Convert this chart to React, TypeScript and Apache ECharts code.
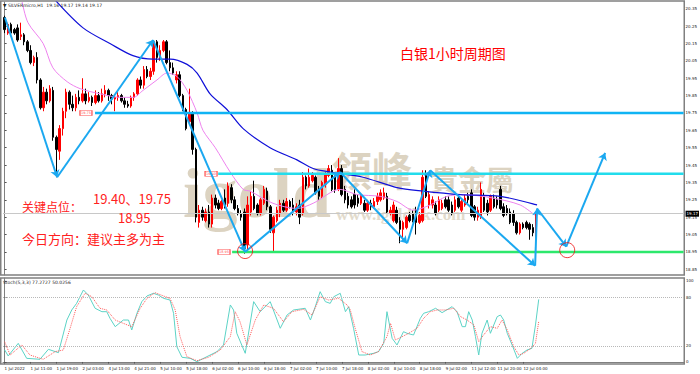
import React, { useEffect, useRef } from "react";
import * as echarts from "echarts";

// [open, close, low, high]
const candles: number[][] = [
  [20.30, 20.23, 20.21, 20.31], [20.21, 20.26, 20.20, 20.27], [20.26, 20.21, 20.20, 20.27], [20.23, 20.21, 20.20, 20.24],
  [20.24, 20.17, 20.16, 20.26], [20.19, 20.20, 20.17, 20.27], [20.20, 20.16, 20.14, 20.21], [20.16, 20.11, 20.10, 20.17],
  [20.11, 20.04, 20.03, 20.14], [20.04, 20.07, 20.02, 20.08], [20.07, 19.94, 19.92, 20.10], [19.94, 19.78, 19.77, 19.95],
  [19.78, 19.87, 19.76, 19.90], [19.87, 19.82, 19.80, 19.89], [19.82, 19.89, 19.81, 19.91], [19.88, 19.61, 19.59, 19.90],
  [19.61, 19.54, 19.38, 19.62], [19.53, 19.66, 19.48, 19.68], [19.66, 19.76, 19.62, 19.78], [19.76, 19.87, 19.72, 19.89],
  [19.87, 19.80, 19.77, 19.88], [19.80, 19.78, 19.76, 19.85], [19.78, 19.84, 19.76, 19.86], [19.84, 19.82, 19.80, 19.88],
  [19.82, 19.86, 19.81, 19.95], [19.86, 19.82, 19.80, 19.89], [19.82, 19.84, 19.81, 19.87], [19.84, 19.81, 19.79, 19.85],
  [19.81, 19.85, 19.80, 19.88], [19.85, 19.82, 19.81, 19.87], [19.82, 19.86, 19.81, 19.89], [19.86, 19.88, 19.84, 19.91],
  [19.88, 19.85, 19.82, 19.89], [19.85, 19.83, 19.80, 19.86], [19.83, 19.84, 19.76, 19.85], [19.84, 19.85, 19.82, 19.87],
  [19.85, 19.82, 19.81, 19.86], [19.82, 19.80, 19.78, 19.84], [19.80, 19.79, 19.78, 19.82], [19.79, 19.84, 19.78, 19.85],
  [19.84, 19.86, 19.82, 19.87], [19.86, 19.94, 19.85, 19.95], [19.94, 19.91, 19.89, 19.96], [19.91, 20.00, 19.89, 20.02],
  [20.00, 19.96, 19.95, 20.02], [19.96, 19.99, 19.94, 20.01], [19.99, 20.16, 19.97, 20.17], [20.16, 20.07, 20.04, 20.17],
  [20.07, 20.11, 20.05, 20.14], [20.11, 20.16, 20.10, 20.17], [20.16, 20.04, 20.03, 20.17], [20.04, 20.01, 19.99, 20.11],
  [20.01, 19.98, 19.97, 20.04], [19.94, 19.97, 19.92, 19.99], [19.97, 19.85, 19.84, 19.99], [19.85, 19.77, 19.76, 19.86],
  [19.77, 19.66, 19.65, 19.78], [19.70, 19.75, 19.68, 19.89], [19.75, 19.54, 19.51, 19.76], [19.54, 19.15, 19.12, 19.55],
  [19.12, 19.19, 19.09, 19.22], [19.19, 19.15, 19.13, 19.21], [19.13, 19.18, 19.12, 19.20], [19.18, 19.11, 19.09, 19.22],
  [19.11, 19.26, 19.09, 19.28], [19.26, 19.22, 19.20, 19.28], [19.23, 19.20, 19.19, 19.25], [19.20, 19.24, 19.19, 19.25],
  [19.26, 19.21, 19.20, 19.31], [19.23, 19.33, 19.21, 19.35], [19.32, 19.25, 19.23, 19.34], [19.25, 19.20, 19.19, 19.27],
  [19.20, 19.17, 19.16, 19.22], [19.17, 19.15, 19.13, 19.19], [19.18, 18.97, 18.94, 19.20], [18.99, 19.22, 18.96, 19.27],
  [19.18, 19.27, 19.16, 19.30], [19.27, 19.20, 19.19, 19.36], [19.22, 19.17, 19.16, 19.23], [19.17, 19.25, 19.16, 19.26],
  [19.23, 19.31, 19.22, 19.33], [19.30, 19.21, 19.19, 19.32], [19.21, 19.08, 19.06, 19.22], [19.06, 19.15, 18.95, 19.16],
  [19.13, 19.19, 19.12, 19.21], [19.17, 19.23, 19.15, 19.25], [19.23, 19.19, 19.18, 19.25], [19.19, 19.24, 19.18, 19.26],
  [19.24, 19.21, 19.20, 19.25], [19.22, 19.18, 19.16, 19.26], [19.18, 19.21, 19.16, 19.23], [19.22, 19.15, 19.11, 19.25],
  [19.17, 19.38, 19.16, 19.41], [19.38, 19.33, 19.31, 19.39], [19.33, 19.38, 19.32, 19.43], [19.36, 19.39, 19.35, 19.41],
  [19.38, 19.29, 19.28, 19.39], [19.31, 19.27, 19.25, 19.33], [19.27, 19.35, 19.26, 19.36], [19.34, 19.40, 19.32, 19.41],
  [19.39, 19.43, 19.38, 19.45], [19.42, 19.31, 19.30, 19.45], [19.38, 19.31, 19.29, 19.39], [19.31, 19.43, 19.30, 19.49],
  [19.43, 19.28, 19.27, 19.45], [19.31, 19.25, 19.23, 19.33], [19.27, 19.22, 19.20, 19.29], [19.25, 19.21, 19.20, 19.27],
  [19.28, 19.22, 19.20, 19.31], [19.26, 19.23, 19.21, 19.28], [19.23, 19.27, 19.22, 19.29], [19.23, 19.19, 19.18, 19.25],
  [19.19, 19.23, 19.18, 19.25], [19.23, 19.21, 19.19, 19.25], [19.21, 19.24, 19.20, 19.26], [19.24, 19.27, 19.22, 19.29],
  [19.25, 19.29, 19.24, 19.31], [19.26, 19.29, 19.25, 19.32], [19.27, 19.18, 19.17, 19.29], [19.17, 19.19, 19.16, 19.21],
  [19.13, 19.22, 19.12, 19.24], [19.19, 19.12, 19.11, 19.21], [19.13, 19.08, 19.00, 19.15], [19.08, 19.12, 19.02, 19.13],
  [19.09, 19.15, 19.08, 19.16], [19.16, 19.13, 19.12, 19.18], [19.17, 19.13, 19.12, 19.19], [19.19, 19.12, 19.05, 19.21],
  [19.12, 19.16, 19.11, 19.18], [19.13, 19.38, 19.12, 19.42], [19.39, 19.27, 19.26, 19.42], [19.22, 19.28, 19.20, 19.30],
  [19.22, 19.25, 19.20, 19.27], [19.22, 19.17, 19.16, 19.24], [19.19, 19.25, 19.18, 19.27], [19.20, 19.23, 19.19, 19.25],
  [19.25, 19.21, 19.20, 19.27], [19.25, 19.19, 19.18, 19.27], [19.22, 19.17, 19.16, 19.24], [19.19, 19.25, 19.18, 19.27],
  [19.26, 19.21, 19.20, 19.28], [19.19, 19.24, 19.18, 19.25], [19.22, 19.26, 19.21, 19.28], [19.27, 19.25, 19.23, 19.29],
  [19.29, 19.16, 19.15, 19.31], [19.21, 19.15, 19.13, 19.22], [19.15, 19.19, 19.13, 19.21], [19.15, 19.31, 19.14, 19.35],
  [19.27, 19.19, 19.18, 19.29], [19.23, 19.18, 19.16, 19.25], [19.19, 19.27, 19.18, 19.28], [19.26, 19.21, 19.20, 19.28],
  [19.25, 19.22, 19.20, 19.27], [19.31, 19.20, 19.19, 19.33], [19.21, 19.16, 19.15, 19.23], [19.20, 19.17, 19.16, 19.22],
  [19.18, 19.12, 19.11, 19.20], [19.17, 19.12, 19.10, 19.19], [19.12, 19.06, 19.05, 19.13], [19.06, 19.11, 19.05, 19.12],
  [19.11, 19.09, 19.08, 19.12], [19.12, 19.09, 19.08, 19.13], [19.11, 19.08, 19.02, 19.12], [19.09, 19.06, 19.04, 19.11],
  [19.06, 19.17, 19.00, 19.18],
];

const slotCount = 210;
const xLabels = [
  "1 Jul 2022", "1 Jul 11:00", "1 Jul 19:00", "2 Jul 03:00", "4 Jul 13:00", "4 Jul 21:00", "5 Jul 10:00",
  "5 Jul 18:00", "6 Jul 02:00", "6 Jul 10:00", "6 Jul 18:00", "7 Jul 02:00", "7 Jul 10:00", "7 Jul 18:00",
  "8 Jul 02:00", "8 Jul 10:00", "8 Jul 18:00", "9 Jul 02:00", "11 Jul 12:00", "11 Jul 20:00", "12 Jul 04:00",
];
const labelEvery = 8;
const priceTicks = [18.85, 18.95, 19.05, 19.15, 19.25, 19.35, 19.45, 19.55, 19.65, 19.75, 19.85, 19.95, 20.05, 20.15, 20.25, 20.35];
const stochTicks = [0, 20, 80, 100];
const stochLevels = [80, 20];
const lastPrice = 19.17;

// moving averages: [bar index, price]
const maFast: number[][] = [
  [5.4, 20.39], [7.2, 20.27], [11.9, 20.15], [14.9, 20.01], [19.3, 19.93], [23.3, 19.89], [29.5, 19.86],
  [35.6, 19.84], [39.7, 19.84], [42.7, 19.88], [47, 19.94], [50.1, 19.98], [53.2, 19.96], [56.3, 19.88],
  [59.4, 19.75], [61.2, 19.65], [65, 19.55], [69.6, 19.41], [73.6, 19.31], [75.7, 19.30], [82.8, 19.23],
  [90.2, 19.20], [95.2, 19.23], [103.5, 19.31], [108.8, 19.28], [115.9, 19.27], [121.1, 19.24], [126.1, 19.19],
  [131.3, 19.22], [136.5, 19.27], [141.5, 19.28], [150.7, 19.26], [159.1, 19.22], [163.7, 19.16],
];
const maSlow: number[][] = [
  [15.6, 20.40], [24.2, 20.24], [32.5, 20.15], [39.6, 20.08], [45.8, 20.06], [51.1, 20.06], [56.3, 20.03],
  [59.4, 19.98], [63.4, 19.86], [68.6, 19.77], [73.6, 19.66], [81.9, 19.55], [90.2, 19.48], [95.2, 19.43],
  [100.4, 19.41], [110.6, 19.38], [121.1, 19.32], [129.1, 19.30], [140.6, 19.28], [152.9, 19.27], [164.3, 19.22],
];

// zigzag wave annotation: [bar index, price]
const zigzag: number[][] = [
  [0.1, 20.30], [16.2, 19.38], [45.8, 20.17], [74.2, 18.95], [103.5, 19.41], [124.2, 19.00],
  [131.3, 19.42], [163.7, 18.87], [164.3, 19.20], [173.3, 18.98], [185.3, 19.52],
];
const keyLevels = [19.75, 19.40, 18.95];
const keyLevelStart = [27.9, 65.9, 70.2];
const keyLevelTag = [25.1, 63.7, 67.7];
const keyLevelColors = ["#10b4f4", "#22dcec", "#2de86c"];
const circles: number[][] = [[74.2, 18.955], [173.6, 18.96]];

const stochK: number[][] = [
  [0, 15], [1.1, 7.4], [4.2, 23], [6.8, 4.5], [10.9, 3.3], [13.5, 15.6], [16.6, 11.5], [19.2, 51.8], [20.7, 64.2],
  [22.2, 72.4], [24.3, 88.9], [25.8, 82.7], [27.9, 66.3], [30, 62.1], [31.5, 62.1], [32.5, 53.9], [34.1, 43.6],
  [36.6, 51.8], [38.2, 51.8], [39.2, 39.5], [40.8, 60.1], [42.3, 74.5], [43.9, 81.5], [45.9, 84.8], [47.4, 82.7],
  [49, 78.6], [51, 76.5], [52.1, 60.1], [53.1, 18.9], [54.7, 5.8], [57.2, 4.5], [59.3, 0.4], [62.4, 6.6],
  [65.5, 12.8], [67.5, 21], [69.6, 70.4], [70.6, 64.2], [71.6, 35.4], [74.2, 10.7], [76.8, 74.5], [78.8, 62.1],
  [81.9, 74.5], [85, 41.6], [87.1, 58], [89.1, 64.2], [92.7, 66.3], [94.3, 51.8], [95.8, 68.3], [97.3, 86.8],
  [98.9, 74.5], [100.4, 72.4], [101.5, 80.6], [103.5, 84.8], [105.1, 62.1], [106.1, 68.3], [107.6, 41.6],
  [109.2, 8.6], [111.2, 8.6], [113.8, 10.7], [115.3, 12.8], [116.9, 23], [117.9, 62.1], [119.5, 29.2], [121, 21],
  [123, 37.4], [124.1, 35.4], [126.1, 33.3], [128.2, 53.9], [129.2, 60.1], [130.8, 62.1], [132.9, 66.3],
  [134.9, 60.9], [138, 68.3], [139.5, 62.1], [141.1, 43.6], [142.1, 43.6], [143.1, 62.1], [144.2, 51.8],
  [145.2, 31.3], [146.2, 8.6], [147.2, 35.4], [148.8, 51.8], [149.8, 35.4], [151.9, 56], [152.9, 58],
  [153.9, 51.8], [155, 35.4], [156.5, 21], [158.1, 4.5], [159.6, 10.7], [161.1, 14.8], [162.6, 16.9],
  [163.7, 45.7], [164.7, 77.27],
];
const stochD: number[][] = [
  [0, 25], [1.7, 8.6], [5.3, 21], [7.8, 8.6], [11.9, 3.3], [15.6, 12.8], [18.1, 14.8], [20.2, 41.6], [22.2, 68.3],
  [24.8, 84.8], [26.9, 80.6], [29.4, 66.3], [31.5, 64.2], [34.1, 51.8], [36.6, 47.7], [39.2, 43.6], [41.8, 66.3],
  [43.9, 78.6], [46.4, 85.6], [49, 81.5], [51, 78.6], [52.6, 64.2], [54.1, 31.3], [56.2, 6.6], [59.3, 1.6],
  [62.9, 5.8], [66.5, 14.8], [69.6, 31.3], [71.1, 62.1], [72.6, 49.7], [74.7, 21], [77.3, 51.8], [79.9, 70.4],
  [82.9, 66.3], [86, 49.7], [88.6, 62.1], [92.2, 65], [94.8, 58], [97.3, 80.6], [99.9, 76.5], [103, 78.6],
  [105.6, 70.4], [106.6, 64.2], [108.1, 41.6], [110.2, 12.8], [112.8, 8.6], [115.3, 12.8], [117.9, 31.3],
  [119, 47.7], [120.5, 27.2], [122.6, 31.3], [124.6, 35.4], [127.2, 41.6], [129.2, 53.9], [131.3, 62.1],
  [133.4, 64.2], [135.9, 64.2], [138.5, 66.3], [140.6, 56], [142.6, 51.8], [144.7, 45.7], [146.2, 25.1],
  [147.7, 33.3], [149.8, 43.6], [151.9, 41.6], [153.4, 51.8], [155, 39.5], [157, 18.9], [158.6, 8.6],
  [160.1, 10.7], [162.3, 16.9], [163.7, 23], [164.7, 50.03],
];

const title = "白银1小时周期图";
const keyTitle = "关键点位：";
const keyLine1 = "19.40、19.75";
const keyLine2 = "18.95";
const direction = "今日方向：建议主多为主";
const header = "SILVERmicro,H1  19.16 19.17 19.14 19.17";
const stochHeader = "Stoch(5,3,3) 77.2727 50.0256";

const cjk = '"Noto Sans CJK SC", sans-serif';

function txt(x: number, y: number, text: string, font: string, fill: string, extra: any = {}) {
  return {
    type: "text",
    x,
    y,
    silent: true,
    z: extra.z ?? 10,
    style: {
      text,
      font,
      fill,
      textAlign: "left",
      textVerticalAlign: "middle",
      align: "left",
      verticalAlign: "middle",
      opacity: extra.opacity ?? 1,
    },
  };
}

export default function App() {
  const ref = useRef<HTMLDivElement>(null);
  useEffect(() => {
    if (!ref.current) return;
    const chart = echarts.init(ref.current, undefined, { renderer: "svg" });
    const cats = Array.from({ length: slotCount }, (_, i) => String(i));
    const segs = zigzag.slice(1).map((p, i) => ({ coords: [zigzag[i], p] }));

    const levelSeries = keyLevels.map((lv, k) => ({
      type: "line",
      xAxisIndex: 1,
      yAxisIndex: 0,
      data: [[keyLevelStart[k], lv], [slotCount - 0.5, lv]],
      showSymbol: false,
      symbol: "none",
      silent: true,
      z: 4,
      lineStyle: { color: keyLevelColors[k], width: 2.5 },
    }));

    const option: any = {
      animation: false,
      backgroundColor: "#ffffff",
      grid: [
        { left: 3, right: 16, top: 2, height: 273 },
        { left: 3, right: 16, top: 278, height: 86 },
      ],
      xAxis: [
        { type: "category", gridIndex: 0, data: cats, boundaryGap: true, show: false },
        { type: "value", gridIndex: 0, min: -0.5, max: slotCount - 0.5, show: false },
        {
          type: "category",
          gridIndex: 1,
          data: cats,
          boundaryGap: true,
          axisLine: { show: true, lineStyle: { color: "#808080", width: 1 } },
          axisTick: {
            show: true,
            alignWithLabel: true,
            length: 2,
            interval: (i: number) => i % labelEvery === 0 && i / labelEvery < xLabels.length,
            lineStyle: { color: "#555" },
          },
          axisLabel: {
            show: true,
            interval: (i: number) => i % labelEvery === 0 && i / labelEvery < xLabels.length,
            formatter: (_v: string, i: number) => xLabels[i / labelEvery] ?? "",
            fontSize: 4,
            color: "#222",
            align: "left",
            margin: 2,
            fontFamily: "DejaVu Sans",
          },
          splitLine: { show: false },
        },
        { type: "value", gridIndex: 1, min: -0.5, max: slotCount - 0.5, show: false },
      ],
      yAxis: [
        {
          type: "value",
          gridIndex: 0,
          position: "right",
          min: 18.817,
          max: 20.389,
          scale: true,
          splitLine: { show: false },
          axisLine: { show: true, lineStyle: { color: "#808080", width: 1 } },
          axisTick: { show: true, length: 2, customValues: priceTicks, lineStyle: { color: "#555" } },
          axisLabel: {
            show: true,
            customValues: priceTicks,
            formatter: (v: number) => v.toFixed(2),
            fontSize: 4,
            color: "#222",
            margin: 2,
            fontFamily: "DejaVu Sans",
          },
        },
        {
          type: "value",
          gridIndex: 1,
          position: "right",
          min: -2.5,
          max: 103.7,
          splitLine: { show: false },
          axisLine: { show: true, lineStyle: { color: "#808080", width: 1 } },
          axisTick: { show: true, length: 2, customValues: stochTicks, lineStyle: { color: "#555" } },
          axisLabel: {
            show: true,
            customValues: stochTicks,
            fontSize: 4,
            color: "#222",
            margin: 2,
            fontFamily: "DejaVu Sans",
          },
        },
      ],
      graphic: [
        // watermark
        txt(183, 193, "igold", 'bold 70px "Liberation Serif", serif', "#dcd3c1", { z: 0 }),
        txt(332, 169, "領峰", 'bold 40px "Noto Sans CJK TC", sans-serif', "#dcd3c1", { z: 0 }),
        txt(430, 179, "貴金屬", 'bold 28px "Noto Sans CJK TC", sans-serif', "#dcd3c1", { z: 0 }),
        txt(336, 214, "www.igoldhk.com", 'bold 17px "Liberation Serif", serif', "#e2dbcc", { z: 0 }),
        // frame
        {
          type: "rect",
          silent: true,
          z: 1,
          shape: { x: 0.75, y: 1, width: 683.5, height: 274 },
          style: { fill: "none", stroke: "#808080", lineWidth: 1.5 },
        },
        {
          type: "rect",
          silent: true,
          z: 1,
          shape: { x: 0.75, y: 278, width: 683.5, height: 86 },
          style: { fill: "none", stroke: "#808080", lineWidth: 1.5 },
        },
        // headers
        txt(3, 5, "▼ " + header, "4.5px DejaVu Sans", "#222"),
        txt(3, 282, stochHeader, "4.5px DejaVu Sans", "#222"),
        // annotations
        txt(400, 53, title, "14px " + cjk, "#ff0000"),
        txt(22, 206, keyTitle, "12px " + cjk, "#ff2020"),
        txt(93, 198, keyLine1, "13px " + cjk, "#ff2020"),
        txt(118, 217, keyLine2, "13px " + cjk, "#ff2020"),
        txt(22, 238, direction, "13px " + cjk, "#ff2020"),
      ],
      series: [
        {
          type: "candlestick",
          xAxisIndex: 0,
          yAxisIndex: 0,
          data: candles,
          barWidth: 2,
          z: 3,
          itemStyle: {
            color: "#ff0000",
            color0: "#000000",
            borderColor: "#ff0000",
            borderColor0: "#000000",
            borderWidth: 1,
          },
          markLine: {
            silent: true,
            symbol: ["none", "none"],
            data: [{ yAxis: lastPrice }],
            lineStyle: { color: "#c8c8c8", width: 1, type: "solid" },
            label: {
              show: true,
              position: "end",
              formatter: () => lastPrice.toFixed(2),
              backgroundColor: "#000",
              color: "#fff",
              fontSize: 4,
              padding: [1, 1],
              distance: 2,
              fontFamily: "DejaVu Sans",
            },
          },
        },
        {
          type: "line",
          xAxisIndex: 1,
          yAxisIndex: 0,
          data: maFast,
          showSymbol: false,
          smooth: 0.3,
          silent: true,
          z: 4,
          lineStyle: { color: "#ee82ee", width: 1 },
        },
        {
          type: "line",
          xAxisIndex: 1,
          yAxisIndex: 0,
          data: maSlow,
          showSymbol: false,
          smooth: 0.3,
          silent: true,
          z: 4,
          lineStyle: { color: "#1010d8", width: 1.2 },
        },
        ...levelSeries,
        {
          type: "scatter",
          xAxisIndex: 1,
          yAxisIndex: 0,
          data: keyLevels.map((lv, k) => [keyLevelTag[k], lv]),
          symbol: "rect",
          symbolSize: [12, 5],
          silent: true,
          z: 6,
          itemStyle: { color: "#ffffff", borderColor: "#ff2020", borderWidth: 0.8 },
          label: {
            show: true,
            position: "inside",
            formatter: (p: any) => p.value[1].toFixed(2),
            fontSize: 3.5,
            color: "#ff2020",
            fontFamily: "DejaVu Sans",
          },
        },
        {
          type: "lines",
          coordinateSystem: "cartesian2d",
          xAxisIndex: 1,
          yAxisIndex: 0,
          data: segs,
          symbol: ["none", "arrow"],
          symbolSize: 7,
          silent: true,
          z: 7,
          lineStyle: { color: "#1ba8f0", width: 2, opacity: 1, curveness: 0 },
        },
        {
          type: "scatter",
          xAxisIndex: 1,
          yAxisIndex: 0,
          data: circles,
          symbol: "circle",
          symbolSize: 15,
          silent: true,
          z: 8,
          itemStyle: { color: "rgba(0,0,0,0)", borderColor: "#ee1111", borderWidth: 1 },
        },
        {
          type: "line",
          xAxisIndex: 3,
          yAxisIndex: 1,
          data: stochK,
          showSymbol: false,
          silent: true,
          z: 4,
          lineStyle: { color: "#5cd3c6", width: 1 },
          markLine: {
            silent: true,
            symbol: ["none", "none"],
            data: stochLevels.map((v) => ({ yAxis: v })),
            lineStyle: { color: "#b8b8b8", width: 1, type: "dotted" },
            label: { show: false },
          },
        },
        {
          type: "line",
          xAxisIndex: 3,
          yAxisIndex: 1,
          data: stochD,
          showSymbol: false,
          silent: true,
          z: 5,
          lineStyle: { color: "#ff5a5a", width: 1, type: "dotted" },
        },
      ],
    };
    chart.setOption(option);
    return () => chart.dispose();
  }, []);
  return (
    <div
      ref={ref}
      style={{ position: "absolute", left: 0, top: 0, width: 700, height: 374, background: "#fff" }}
    />
  );
}
